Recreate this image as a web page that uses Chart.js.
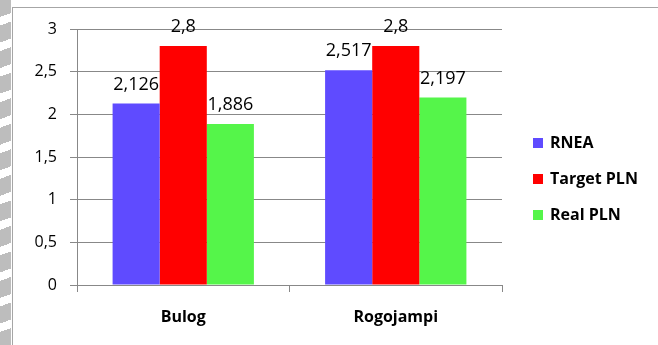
<!DOCTYPE html>
<html>
<head>
<meta charset="utf-8">
<script src="https://cdn.jsdelivr.net/npm/chart.js@4.4.1/dist/chart.umd.min.js"></script>
<style>
    body { margin: 0; background: #fff; }
    #wrap { position: relative; width: 658px; height: 345px; overflow: hidden; }
    #mark { position: absolute; left: 0; top: 0; width: 11px; height: 345px;
            background: repeating-linear-gradient(160deg, #bdbdbd 0 16px, #fff 16px 24px); }
    #frame { position: absolute; left: 12px; top: 7px; right: -2px; bottom: -2px;
             border-left: 1px solid #a6a6a6; border-top: 1px solid #a6a6a6; }
    canvas { position: absolute; left: 0; top: 0; }
</style>
</head>
<body>
<div id="wrap">
    <div id="mark"></div>
    <div id="frame"></div>
    <canvas id="chart" width="658" height="345"></canvas>
</div>
<script>
const locations = ['Bulog', 'Rogojampi'];
const rneaValues = [2.126, 2.517];
const targetPlnValues = [2.8, 2.8];
const realPlnValues = [1.886, 2.197];
const seriesNames = ['RNEA', 'Target PLN', 'Real PLN'];
const seriesColors = ['#5f4bff', '#ff0000', '#55f54a'];

const fontFamily = '"Open Sans", "DejaVu Sans", sans-serif';

// write numbers with a decimal comma
function commaNumber(v) {
    return String(v).replace('.', ',');
}

// value labels above each bar
const barValueLabels = {
    id: 'barValueLabels',
    afterDatasetsDraw(chart) {
        const ctx = chart.ctx;
        ctx.save();
        ctx.font = '18px ' + fontFamily;
        ctx.fillStyle = '#000';
        ctx.textAlign = 'center';
        ctx.textBaseline = 'alphabetic';
        chart.data.datasets.forEach((ds, i) => {
            chart.getDatasetMeta(i).data.forEach((bar, j) => {
                ctx.fillText(commaNumber(ds.data[j]), bar.x, bar.y - 14);
            });
        });
        ctx.restore();
    }
};

// legend to the right of the plot, one item per row
const sideLegend = {
    id: 'sideLegend',
    afterDraw(chart) {
        const ctx = chart.ctx;
        const x = chart.chartArea.right + 31;
        ctx.save();
        ctx.font = 'bold 16px ' + fontFamily;
        ctx.textBaseline = 'middle';
        chart.data.datasets.forEach((ds, i) => {
            const y = chart.chartArea.top + 114 + i * 36;
            ctx.fillStyle = ds.backgroundColor;
            ctx.fillRect(x, y - 5, 10, 10);
            ctx.fillStyle = '#000';
            ctx.fillText(ds.label, x + 17, y);
        });
        ctx.restore();
    }
};

const ctx = document.getElementById('chart').getContext('2d');
const barChart = new Chart(ctx, {
    type: 'bar',
    data: {
        labels: locations,
        datasets: [rneaValues, targetPlnValues, realPlnValues].map((values, i) => ({
            label: seriesNames[i],
            data: values,
            backgroundColor: seriesColors[i],
            borderWidth: 0,
            categoryPercentage: 0.665,
            barPercentage: 1
        }))
    },
    options: {
        responsive: false,
        animation: false,
        layout: {
            padding: { top: 29, right: 156, bottom: 0, left: 0 }
        },
        scales: {
            x: {
                grid: { offset: true, drawOnChartArea: false, tickLength: 7, color: '#888' },
                border: { color: '#888' },
                ticks: { font: { family: fontFamily, size: 16, weight: 'bold' }, color: '#000', padding: 16 },
                afterFit: scale => { scale.height = 60; }
            },
            y: {
                min: 0,
                max: 3,
                grid: { tickLength: 7, color: '#888' },
                border: { color: '#888' },
                ticks: {
                    stepSize: 0.5,
                    padding: 13,
                    color: '#000',
                    font: { family: fontFamily, size: 16 },
                    callback: v => commaNumber(v)
                },
                afterFit: scale => { scale.width = 77; }
            }
        },
        plugins: {
            legend: { display: false },
            tooltip: { enabled: false }
        }
    },
    plugins: [barValueLabels, sideLegend]
});
</script>
</body>
</html>
